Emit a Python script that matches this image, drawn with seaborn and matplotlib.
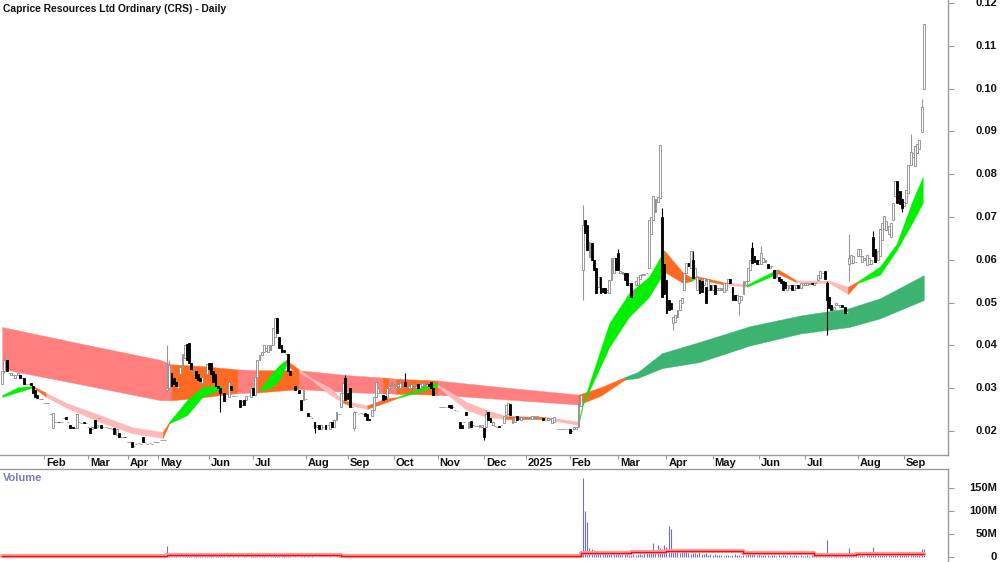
import numpy as np
import pandas as pd
import matplotlib
matplotlib.use("Agg")
import matplotlib.pyplot as plt
import seaborn as sns
from matplotlib.transforms import blended_transform_factory

# ---------------- data (prices in thousandths of a dollar, volume in millions) ----------------
title = "Caprice Resources Ltd Ordinary (CRS) - Daily"

opens = [
    # Jan 2024
    31, 34, 36.5, 33.5, 33, 33, 32.5, 33, 33, 32.5, 32.3, 31, 31, 31.2, 30.5, 29.5, 28.5, 27.5, 27.5,
    # Feb
    26.5, 26.5, 26.5, 24, 20.7, 22, 22, 22.2, 22, 23, 23.2, 22, 21.3, 21, 20.8, 20.7, 22, 21.9, 22, 21.9,
    # Mar
    21, 20.7, 20.5, 22.5, 21, 23, 21.5, 21, 21, 20.7, 20.7, 20.5, 20.7, 19, 19.5, 18.6, 18.6, 18.7,
    # Apr
    17.5, 17.4, 17.4, 16.5, 17, 17.2, 17, 18.6, 17.4, 17, 17.2, 17, 17.5, 17.5,
    # May
    17.5, 17.8, 17.8, 17.8, 29.5, 30, 33.5, 32.5, 31.5, 30, 33.3, 35, 37, 40.3, 40.5, 36, 33.3, 34, 33.3, 32.5, 31.2, 32, 33.3,
    # Jun
    36, 36, 34, 33.3, 30.5, 30, 29.5, 28.8, 27.5, 27.9, 30.5, 28.3, 28.3, 28.3, 27.2, 26, 27.2, 27.2, 28.3, 28,
    # Jul
    30, 28.4, 32.6, 36.6, 37.8, 38.5, 38.8, 38.5, 39, 40, 42, 46.4, 42, 40, 39, 38, 38, 34, 31.4, 30.5, 30, 29.5, 27.2, 27.2,
    # Aug
    27.5, 24.2, 23.5, 23, 22, 21, 21.5, 20.5, 21, 21.5, 21.5, 20.5, 22, 21, 22.5, 24, 25.6, 29, 32.3,
    # Sep
    29, 30, 25.5, 20.7, 24.5, 24, 24.2, 24, 24.2, 24, 22.8, 23.5, 25, 28, 29, 29, 28.5, 28.3, 28, 30, 30.5,
    # Oct
    31, 30, 30.5, 30, 30, 31.5, 30.5, 30, 30, 30.5, 30, 31, 30, 30.5, 30.5, 30.5, 31, 31.4, 30, 28.5,
    # Nov
    28.5, 25.5, 25.5, 25.5, 25.5, 26, 26, 25.5, 25, 24.7, 22, 21.5, 22, 24.5, 20.7, 22.3, 21.5, 21.2, 21.2, 21, 21,
    # Dec
    20.7, 21, 24.5, 23, 21.5, 21.2, 21, 21.2, 21.5, 21.8, 23.7, 24, 26.2, 21.8, 22, 23.5, 22.8, 22.5, 22.8,
    # Jan 2025
    23.2, 23.2, 23, 22.8, 23, 23.2, 23, 23, 23, 22.5, 22.5, 22.8, 21.8, 22, 20.5, 20.5, 20.5, 20.5, 20.5, 20.5,
    # Feb
    20.5, 20, 20.5, 20.5, 21, 25.8, 57.6, 69.3, 68.1, 60.6, 64, 60, 58, 53.6, 56, 53.5, 53.5, 52.5, 52.2, 55.3, 56.9, 60.4,
    # Mar
    61.5, 57, 56.8, 57, 57, 54, 54.6, 51.5, 54, 54, 55.6, 56.4, 56.4, 57, 58, 66, 69.3, 71.2, 73.5, 74.5, 70, 59,
    # Apr
    55.3, 50.6, 50, 45.2, 45.5, 46.7, 48.3, 50, 53, 57, 59.3, 58, 60, 56, 53, 55.3, 55, 54, 53.6, 53, 54,
    # May
    53, 54, 53, 53, 53, 52.5, 53, 54.5, 55.5, 53.6, 51.8, 50.6, 49.8, 50.5, 52, 54, 55, 57.7, 62.8, 60.9, 60,
    # Jun
    59, 59, 59.5, 59.5, 59, 58, 58.5, 57.7, 56, 56, 55.5, 55, 54.8, 53, 53.5, 54, 53, 53.5, 54, 53.5, 54,
    # Jul
    54, 54, 54.3, 54.5, 54, 54.5, 55.2, 55.8, 57, 57.5, 54.6, 51.3, 49.5, 48.3, 49.5, 49.5, 49, 49.5, 49, 47.6,
    # Aug
    59, 59.2, 59.2, 59.5, 60.8, 60.8, 59.5, 60, 58.7, 59, 59, 65.3, 62.6, 60, 60.8, 64.7, 67.2, 67, 66, 65.4, 69.3, 74.8, 78.3, 76, 74.3,
    # Sep
    72.5, 73.2, 75.6, 82.2, 84, 82, 85, 86, 89.8, 100,
]

closes = [
    # Jan 2024
    34, 36.5, 34, 33.5, 33.5, 33, 33, 33.5, 32.5, 32.5, 31, 31, 31, 30.8, 29, 28, 27.8, 27.5, 27.5,
    # Feb
    26.5, 26.5, 26.5, 24, 24.2, 22, 22, 22, 22, 23, 22.8, 22, 20.7, 20.8, 20.8, 24, 22, 21.9, 21.9, 21.9,
    # Mar
    21, 19.5, 21, 20.7, 21.5, 23, 20.8, 21, 21, 20.7, 20.7, 20.5, 19.2, 20.5, 18.6, 18.6, 18.6, 18.6,
    # Apr
    17.5, 17.4, 16.2, 16.5, 17, 17.2, 17, 17.4, 17.4, 17, 17.2, 17, 17.5, 17.5,
    # May
    17.5, 17.8, 17.8, 17.8, 30, 35.5, 30.5, 31, 30.5, 30.5, 35, 38, 40, 36.7, 36, 34.5, 34.5, 32.5, 32, 31.8, 32.6, 32, 35.6,
    # Jun
    34.5, 33.3, 31.5, 30.5, 30, 29, 29.5, 27.1, 27.5, 31.4, 29.5, 28.3, 28.3, 28.3, 25.6, 27, 26, 28.3, 28.3, 30,
    # Jul
    28.4, 32.6, 36.5, 37.8, 38.5, 40, 39.5, 40, 40, 44, 46.4, 42.9, 39.5, 38.5, 38.5, 38, 34, 33, 31.4, 29.5, 30, 29, 24.8, 29.6,
    # Aug
    27.5, 23.5, 23.5, 23, 20.8, 21.5, 20.5, 21.5, 21, 20.5, 21.5, 22, 21, 22.5, 24.4, 24, 29, 31.2, 27.2,
    # Sep
    27.5, 25.5, 25.5, 24.4, 24.5, 24, 24.2, 24, 23.5, 22.5, 22.5, 25, 28, 31.4, 30, 29, 27.2, 27.5, 30, 30.5, 31.5,
    # Oct
    31, 30.5, 31, 31.2, 30.5, 30.5, 30.5, 30.5, 31, 31, 30.5, 30, 31, 31.2, 31, 31, 30.5, 30, 28.5, 28.5,
    # Nov
    28.5, 25.5, 25.5, 25.5, 25.5, 25.5, 25.4, 25.5, 25, 24.7, 20.7, 20.7, 22, 23.7, 22, 21, 21.5, 21.2, 21.2, 21.5, 21.3,
    # Dec
    18.6, 24, 22.5, 22, 22, 21.2, 21, 21, 21.5, 23.5, 26, 26.5, 23.7, 23, 23.2, 22.5, 22.8, 23.2, 23.3,
    # Jan 2025
    23.2, 23.2, 23.2, 23.5, 23.5, 23.5, 23, 23, 22.6, 22.5, 23, 22.8, 23, 23.2, 20.5, 20.5, 20.5, 20.5, 20.5, 20.5,
    # Feb
    19.5, 20, 21, 21, 26.5, 28.5, 68.1, 66.3, 62.3, 64.1, 60, 57.6, 52.2, 56, 52.2, 52.5, 52.2, 53, 55.3, 60.4, 60.4, 57.6,
    # Mar
    57.6, 57.5, 57.2, 55.3, 54, 54.6, 51.3, 53, 55, 56, 56.4, 56.8, 56.8, 57, 69.3, 70, 75, 74.3, 74.7, 86.8, 51.3, 52,
    # Apr
    47.6, 48.3, 48.5, 46.7, 47, 48.3, 50.6, 51, 57, 59.3, 58.5, 62, 55.8, 58, 56, 52.3, 52.5, 55.8, 50, 55.5, 53,
    # May
    54, 52, 53.5, 53.5, 53.5, 54.5, 54.5, 55.5, 54.5, 50.5, 50.6, 51.8, 51.5, 51.5, 55, 55, 58, 60, 59.3, 59.5, 59,
    # Jun
    60, 61.5, 60.5, 60, 58, 58.5, 58.5, 55.8, 57.7, 55, 54.5, 53, 53.5, 54, 54, 53, 54, 54, 53.5, 54.5, 54.5,
    # Jul
    54.5, 54.5, 54.5, 54.3, 54.5, 54.5, 56.4, 57.5, 57, 55.5, 50.5, 48.8, 48.3, 49, 50, 49.5, 49.5, 49, 47.6, 48,
    # Aug
    60.4, 61.1, 60.8, 59.5, 62.6, 62.6, 61, 60.5, 61.1, 60.5, 60, 60.8, 59.6, 62, 67.2, 68.5, 70.2, 69, 68, 68.5, 73.2, 78.3, 73.2, 73, 72,
    # Sep
    73.5, 76.4, 82.2, 85.2, 85, 86.5, 87, 88, 95.7, 115,
]

# visible wick extremes: bar index -> (high, low)
wick_hi_lo = {
    1: (38.2, 33.5), 75: (40, 29), 76: (36.5, 29.5), 99: (30, 24.4), 142: (22, 19.5),
    156: (33.2, 27.2), 160: (24.6, 20), 181: (32.5, 30), 183: (33.5, 30.5), 219: (20.7, 18),
    220: (25, 21), 264: (72.8, 50.6), 280: (62.5, 57.6), 300: (72, 51.3), 305: (46.7, 43.6),
    314: (62, 55.8), 335: (51.5, 47), 341: (64.2, 59.3), 345: (63.3, 59), 375: (55, 42.4),
    385: (66, 55), 396: (66.8, 60.8), 409: (74.3, 71.2), 413: (89.3, 82.2), 418: (97.5, 89.8),
}

volumes_m = [
    2.5, 4, 3, 1.5, 1, 0.8, 1.2, 0.6, 0.9, 1.5, 1.1, 0.7, 0.5, 0.8, 1.8, 2.2, 1.2, 0.6, 0.5,
    0.4, 0.3, 0.5, 1, 4, 1, 0.5, 0.6, 0.4, 0.8, 0.7, 1.2, 0.9, 0.5, 3, 0.6, 0.4, 0.5, 0.3, 0.4,
    0.6, 1.5, 1.2, 1.8, 0.5, 1, 0.6, 0.4, 0.5, 0.3, 0.4, 1.2, 1.5, 1, 0.4, 0.3, 0.3, 0.4,
    0.5, 0.6, 1.5, 0.4, 0.5, 0.4, 0.6, 1.2, 0.4, 0.3, 0.4, 0.3, 0.5, 0.4,
    0.3, 0.5, 0.4, 0.4, 23, 8, 5, 3, 2.5, 2, 4, 5, 6, 4, 3, 2, 1.5, 2, 2.5, 1.5, 2, 1.5, 2.5,
    2, 3, 2.5, 2, 8, 3, 1.5, 2, 3, 1.5, 1, 1.2, 1, 1.5, 0.8, 1, 1.2, 1.5, 1, 2,
    1.5, 2, 4, 3, 3, 2, 1.5, 1.5, 3, 6, 5, 4, 3, 2.5, 2, 3, 1.5, 1.2, 1, 1.5, 1, 0.8, 1.5, 2,
    1, 1.5, 0.8, 1.5, 1, 0.6, 0.8, 0.5, 0.6, 0.7, 1, 1.2, 0.8, 1, 2, 3, 4, 2, 1.5,
    2, 2.5, 1.5, 1, 0.8, 0.6, 0.5, 0.8, 1, 0.7, 1.5, 2, 3, 2, 1.5, 1, 1.2, 1, 1.5, 1, 2,
    1.5, 1.2, 2, 1, 1.5, 3, 1, 0.8, 1.2, 1, 0.8, 1, 1.5, 1.2, 1, 0.8, 1, 1.5, 2, 1.2,
    0.8, 0.5, 0.4, 0.6, 0.5, 1, 0.8, 0.5, 0.4, 1.5, 1, 0.6, 1, 0.8, 0.6, 0.5, 0.4, 0.6, 0.5, 0.8, 0.6,
    1.5, 3, 2, 1, 0.8, 0.6, 0.5, 0.6, 0.8, 1.5, 2.5, 1.5, 1, 0.8, 0.6, 0.5, 0.7, 0.6, 0.5,
    0.5, 0.6, 0.4, 0.8, 0.6, 0.5, 0.4, 0.6, 0.5, 0.4, 0.6, 0.8, 0.5, 0.3, 0.3, 0.4, 0.3, 0.3, 0.4, 0.3,
    0.5, 0.4, 0.6, 0.8, 4, 12, 172, 100, 76, 20, 18, 15, 12, 10, 8, 9, 7, 6, 8, 10, 7, 6,
    8, 6, 5, 7, 6, 5, 4, 6, 5, 7, 6, 5, 8, 10, 12, 15, 31, 14, 27, 20, 18, 25,
    22, 67, 60, 15, 12, 10, 9, 14, 12, 11, 8, 7, 9, 8, 6, 10, 7, 6, 8, 5, 6,
    5, 6, 4, 5, 4, 3, 5, 4, 3, 4, 6, 5, 4, 3, 4, 5, 6, 8, 10, 7, 5,
    6, 5, 4, 5, 4, 3, 5, 4, 3, 4, 3, 5, 4, 3, 4, 3, 5, 4, 3, 4, 3,
    3, 4, 3, 5, 4, 3, 4, 5, 4, 3, 37, 8, 6, 4, 3, 4, 3, 5, 4, 3,
    20, 8, 5, 4, 3, 4, 5, 3, 4, 5, 6, 22, 6, 4, 5, 6, 5, 4, 6, 5, 8, 6, 5, 4, 6,
    5, 6, 8, 10, 6, 5, 7, 9, 17, 17,
]

# volume moving average (millions), step samples
vol_ma_bar = [0, 19, 75, 154, 204, 210, 263, 286, 302, 337, 369, 388, 419]
vol_ma_val = [2.5, 3.0, 4.0, 3.0, 2.5, 3.0, 8.0, 10.0, 14.0, 8.0, 5.0, 6.0, 6.0]

# long-term average ribbon (bar, top, bottom) and colour of each interval
long_bar = [0, 35, 72, 77, 90, 107, 116, 135, 158, 173, 176, 179, 198, 226, 262, 272, 283, 289, 300, 317, 340, 363, 385, 399, 419]
long_top = [44.3, 40.5, 36.6, 35.6, 35.2, 34.4, 34.2, 34.2, 33.0, 32.5, 32.4, 32.2, 31.8, 30.3, 28.5, 30.2, 32.6, 33.8, 38.2, 40.8, 44.5, 47.0, 48.7, 51.0, 56.4]
long_bot = [34.5, 31.0, 27.2, 27.2, 27.8, 28.9, 29.0, 29.8, 29.1, 28.8, 28.8, 28.7, 28.5, 27.5, 26.2, 28.2, 32.0, 32.4, 34.7, 36.1, 40.0, 42.8, 44.3, 46.3, 50.6]
long_col = ["r", "r", "r", "o", "o", "r", "o", "r", "r", "o", "r", "o", "r", "r", "o", "o", "g", "g", "g", "g", "g", "g", "g", "g"]

# short-term average ribbon
short_bar = [0, 7, 14, 20, 29, 44, 59, 73, 76, 84, 91, 98, 100, 117, 122, 126, 129, 135, 140, 149, 155, 158, 166, 175,
             179.5, 196, 198, 211, 220, 229, 247, 262, 264, 276, 285, 294, 301, 309.5, 313, 315, 327.6, 338.5, 352.6,
             361, 376, 384.5, 389, 399, 406.7, 414, 418.5]
short_top = [28.4, 30.2, 30.5, 28.9, 26.6, 23.8, 20.9, 19.8, 22.2, 27.2, 30.3, 30.6, 30.3, 29.6, 33.1, 35.4, 36.6, 34.4,
             32.6, 30.1, 27.2, 26.8, 26.0, 27.7, 27.9, 31.2, 30.8, 26.8, 25.0, 23.5, 23.3, 22.2, 26.5, 45.2, 52.2, 56.0,
             62.2, 57.0, 56.0, 56.3, 54.8, 54.2, 57.8, 55.2, 55.1, 53.7, 55.0, 58.4, 63.8, 74.0, 79.3]
short_bot = [28.0, 29.1, 30.2, 28.0, 25.5, 22.2, 19.5, 18.4, 21.8, 23.7, 28.0, 29.5, 30.1, 29.4, 30.1, 31.9, 35.2, 33.6,
             32.2, 28.5, 26.6, 26.0, 25.2, 26.8, 27.7, 30.2, 30.3, 25.0, 23.3, 22.8, 22.8, 21.4, 26.2, 39.6, 46.7, 51.3,
             57.2, 54.6, 55.0, 55.6, 54.3, 53.7, 56.8, 54.8, 54.6, 52.0, 54.6, 56.5, 62.3, 68.9, 73.3]
short_col = ["g", "g", "o", "p", "p", "p", "p", "o", "g", "g", "g", "g", "none", "g", "g", "g", "o", "p", "p", "p", "o",
             "p", "o", "o", "g", "g", "p", "p", "p", "o", "p", "g", "g", "g", "g", "g", "o", "o", "g", "o", "p", "g",
             "o", "p", "p", "o", "g", "g", "g", "g"]

month_tick_bar = [19, 39, 57, 71, 94, 114, 138, 157, 178, 198, 219, 238, 258, 280, 302, 323, 344, 365, 389, 410]
month_labels = ["Feb", "Mar", "Apr", "May", "Jun", "Jul", "Aug", "Sep", "Oct", "Nov", "Dec", "2025",
                "Feb", "Mar", "Apr", "May", "Jun", "Jul", "Aug", "Sep"]

price_ticks = [20, 30, 40, 50, 60, 70, 80, 90, 100, 110, 120]
price_tick_labels = ["0.02", "0.03", "0.04", "0.05", "0.06", "0.07", "0.08", "0.09", "0.10", "0.11", "0.12"]
vol_ticks = [0, 50, 100, 150]
vol_tick_labels = ["0", "50M", "100M", "150M"]

# ---------------- style ----------------
sns.set_theme(style="white")
plt.rcParams["font.family"] = ["Liberation Sans", "DejaVu Sans"]

LONG_COLORS = {"r": "#FF7F7F", "o": "#FF6A22", "g": "#3CB371"}
SHORT_COLORS = {"p": "#FFB8B8", "o": "#FF6A22", "g": "#00F000"}
AX_GREY = "#9a9a9a"

fig = plt.figure(figsize=(10, 5.62), dpi=100)
W, H = 1000.0, 562.0
ax = fig.add_axes([0, 1 - 455 / H, 948 / W, 455 / H])
axv = fig.add_axes([0, 0, 948 / W, (562 - 469) / H])

n = min(len(opens), len(closes), len(volumes_m))
bars = np.arange(n)
o = np.array(opens[:n], dtype=float)
c = np.array(closes[:n], dtype=float)
hi = np.maximum(o, c)
lo = np.minimum(o, c)
for k, (h, l) in wick_hi_lo.items():
    if k < n:
        hi[k] = max(hi[k], h)
        lo[k] = min(lo[k], l)


def draw_ribbon(axis, xs, tops, bots, cols, cmap, z):
    xs = np.asarray(xs, float)
    tops = np.asarray(tops, float)
    bots = np.asarray(bots, float)
    i = 0
    m = len(cols)
    while i < m:
        j = i
        while j + 1 < m and cols[j + 1] == cols[i]:
            j += 1
        if cols[i] != "none":
            col = cmap[cols[i]]
            axis.fill_between(xs[i:j + 2], tops[i:j + 2], bots[i:j + 2], facecolor=col,
                              edgecolor=col, linewidth=0.3, zorder=z)
        i = j + 1


draw_ribbon(ax, long_bar, long_top, long_bot, long_col, LONG_COLORS, 1)
draw_ribbon(ax, short_bar, short_top, short_bot, short_col, SHORT_COLORS, 2)

up = c >= o
ax.vlines(bars[up], lo[up], hi[up], color="#999999", lw=0.8, zorder=3)
ax.vlines(bars[~up], lo[~up], hi[~up], color="black", lw=0.8, zorder=3)
ax.bar(bars[up], (c - o)[up], bottom=o[up], width=0.85, facecolor="white",
       edgecolor="#8a8a8a", linewidth=0.6, zorder=4)
ax.bar(bars[~up], (o - c)[~up], bottom=c[~up], width=0.85, facecolor="black",
       edgecolor="black", linewidth=0.6, zorder=4)

XMIN, XMAX = -1, 430
ax.set_xlim(XMIN, XMAX)
ax.set_ylim(14.4, 120.7)

for s in ["top", "left"]:
    ax.spines[s].set_visible(False)
for s in ["bottom", "right"]:
    ax.spines[s].set_color(AX_GREY)
    ax.spines[s].set_linewidth(1.0)
ax.set_xticks(month_tick_bar)
ax.set_xticklabels([])
ax.tick_params(axis="x", direction="out", length=3, color=AX_GREY, width=0.8, bottom=True)
ax.yaxis.tick_right()
ax.set_yticks(price_ticks)
ax.set_yticklabels([])
ax.tick_params(axis="y", direction="out", length=4, color=AX_GREY, width=0.8, right=True, left=False)
ax.grid(False)

trans_x = blended_transform_factory(ax.transData, fig.transFigure)
for t, lab in zip(month_tick_bar, month_labels):
    ax.text(t + 0.9, 1 - 463 / H, lab, transform=trans_x, ha="left", va="center",
            fontsize=8, fontweight="bold", color="#111111")

trans_y = blended_transform_factory(fig.transFigure, ax.transData)
for t, lab in zip(price_ticks, price_tick_labels):
    ax.text(997 / W, t, lab, transform=trans_y, ha="right", va="center",
            fontsize=8, fontweight="bold", color="#111111", clip_on=False)

fig.text(3 / W, 1 - 9 / H, title, ha="left", va="center", fontsize=7.4, fontweight="bold", color="#111111")

# ---------------- volume panel ----------------
vol = np.array(volumes_m[:n], dtype=float)
axv.vlines(bars, 0, vol, color="#6f6fcf", lw=0.8, zorder=2)
ma_df = pd.DataFrame({"bar": vol_ma_bar, "vol": vol_ma_val})
sns.lineplot(data=ma_df, x="bar", y="vol", ax=axv, color="#ff9a9a", lw=3.0,
             drawstyle="steps-post", zorder=3, legend=False)
sns.lineplot(data=ma_df, x="bar", y="vol", ax=axv, color="#ee1111", lw=1.0,
             drawstyle="steps-post", zorder=4, legend=False)
axv.set_xlim(XMIN, XMAX)
axv.set_ylim(-10.9, 191)
axv.set_xlabel("")
axv.set_ylabel("")
axv.set_xticks([])
for s in ["left", "bottom"]:
    axv.spines[s].set_visible(False)
for s in ["top", "right"]:
    axv.spines[s].set_color(AX_GREY)
    axv.spines[s].set_linewidth(1.0)
axv.yaxis.tick_right()
axv.set_yticks(vol_ticks)
axv.set_yticklabels([])
axv.tick_params(axis="y", direction="out", length=4, color=AX_GREY, width=0.8, right=True, left=False)
axv.grid(False)
trans_vy = blended_transform_factory(fig.transFigure, axv.transData)
for t, lab in zip(vol_ticks, vol_tick_labels):
    axv.text(997 / W, t, lab, transform=trans_vy, ha="right", va="center",
             fontsize=8, fontweight="bold", color="#111111", clip_on=False)
fig.text(3 / W, 1 - 478 / H, "Volume", ha="left", va="center", fontsize=8,
         fontweight="bold", color="#7c7cc0")

fig.savefig("out.png", dpi=100, facecolor="white")
